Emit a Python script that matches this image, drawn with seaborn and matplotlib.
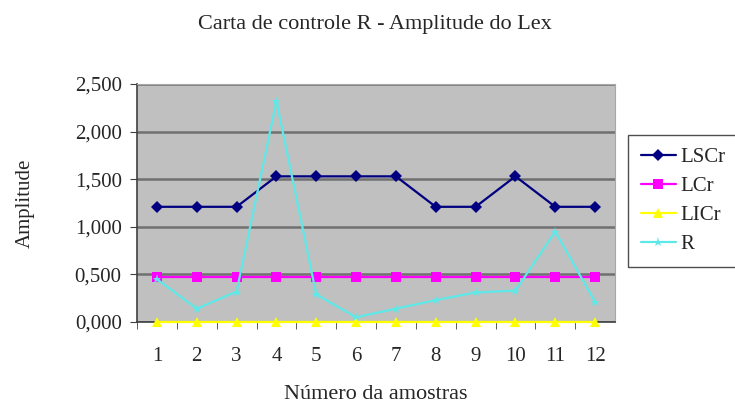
import pandas as pd
import matplotlib
matplotlib.use("Agg")
import matplotlib.pyplot as plt
import seaborn as sns
from matplotlib.ticker import FuncFormatter

# data
amostras = list(range(1, 13))
lscr = [1.21, 1.21, 1.21, 1.53, 1.53, 1.53, 1.53, 1.21, 1.21, 1.53, 1.21, 1.21]
lcr = [0.47] * 12
licr = [0.0] * 12
r = [0.45, 0.14, 0.32, 2.32, 0.29, 0.05, 0.14, 0.23, 0.31, 0.33, 0.95, 0.21]
series = ["LSCr", "LCr", "LICr", "R"]

df = pd.DataFrame({"amostra": amostras * 4,
                   "valor": lscr + lcr + licr + r,
                   "serie": [s for s in series for _ in amostras]})

sns.set_style("white")
plt.rcParams["font.family"] = ["Liberation Serif", "DejaVu Serif"]

fig = plt.figure(figsize=(7.35, 4.05), dpi=100)
ax = fig.add_axes([137 / 735, 1 - 322 / 405, 478 / 735, 238 / 405])
ax.set_facecolor("#c0c0c0")

palette = {"LSCr": "#000080", "LCr": "#ff00ff", "LICr": "#ffff00", "R": "#5ee8e8"}
markers = {"LSCr": "D", "LCr": "s", "LICr": "^", "R": "*"}
sns.lineplot(data=df, x="amostra", y="valor", hue="serie", style="serie",
             palette=palette, markers=markers, dashes=False, ax=ax,
             linewidth=1.6, markersize=6.5, markeredgewidth=0, zorder=3, clip_on=False)

ax.set_xlim(0.5, 12.5)
ax.set_ylim(0, 2.5)
ax.set_xticks(amostras)
ax.set_yticks([0, 0.5, 1.0, 1.5, 2.0, 2.5])
ax.yaxis.set_major_formatter(FuncFormatter(lambda v, p: f"{v:.3f}".replace(".", ",")))
ax.grid(axis="y", color="#707070", linewidth=1.8, zorder=1)
ax.set_axisbelow(True)

for side in ["top", "right"]:
    ax.spines[side].set_color("#a8a8a8")
for side in ["left", "bottom"]:
    ax.spines[side].set_color("#404040")
    ax.spines[side].set_linewidth(1.2)

ax.tick_params(axis="x", labelsize=15, length=0, pad=18)
ax.tick_params(axis="y", labelsize=15, length=5, pad=6, direction="out", left=True, color="#404040")
# category boundary ticks on x axis
ax.set_xticks([i + 0.5 for i in range(12)], minor=True)
ax.tick_params(axis="x", which="minor", length=5, direction="out", bottom=True, color="#404040")

ax.set_xlabel("Número da amostras", fontsize=16, labelpad=14)
ax.set_ylabel("Amplitude", fontsize=15, labelpad=29)
fig.text(0.51, 1 - 24 / 405, "Carta de controle R - Amplitude do Lex",
         ha="center", va="center", fontsize=16)

leg = ax.legend(title=None, loc="center left", bbox_to_anchor=(628 / 735, 1 - 201 / 405),
                bbox_transform=fig.transFigure, fontsize=15, frameon=True,
                fancybox=False, edgecolor="#202020", borderpad=0.6, borderaxespad=0,
                labelspacing=0.45, handlelength=1.7, handletextpad=0.2)
leg.get_frame().set_linewidth(1.0)

fig.savefig("out.png", dpi=100)
